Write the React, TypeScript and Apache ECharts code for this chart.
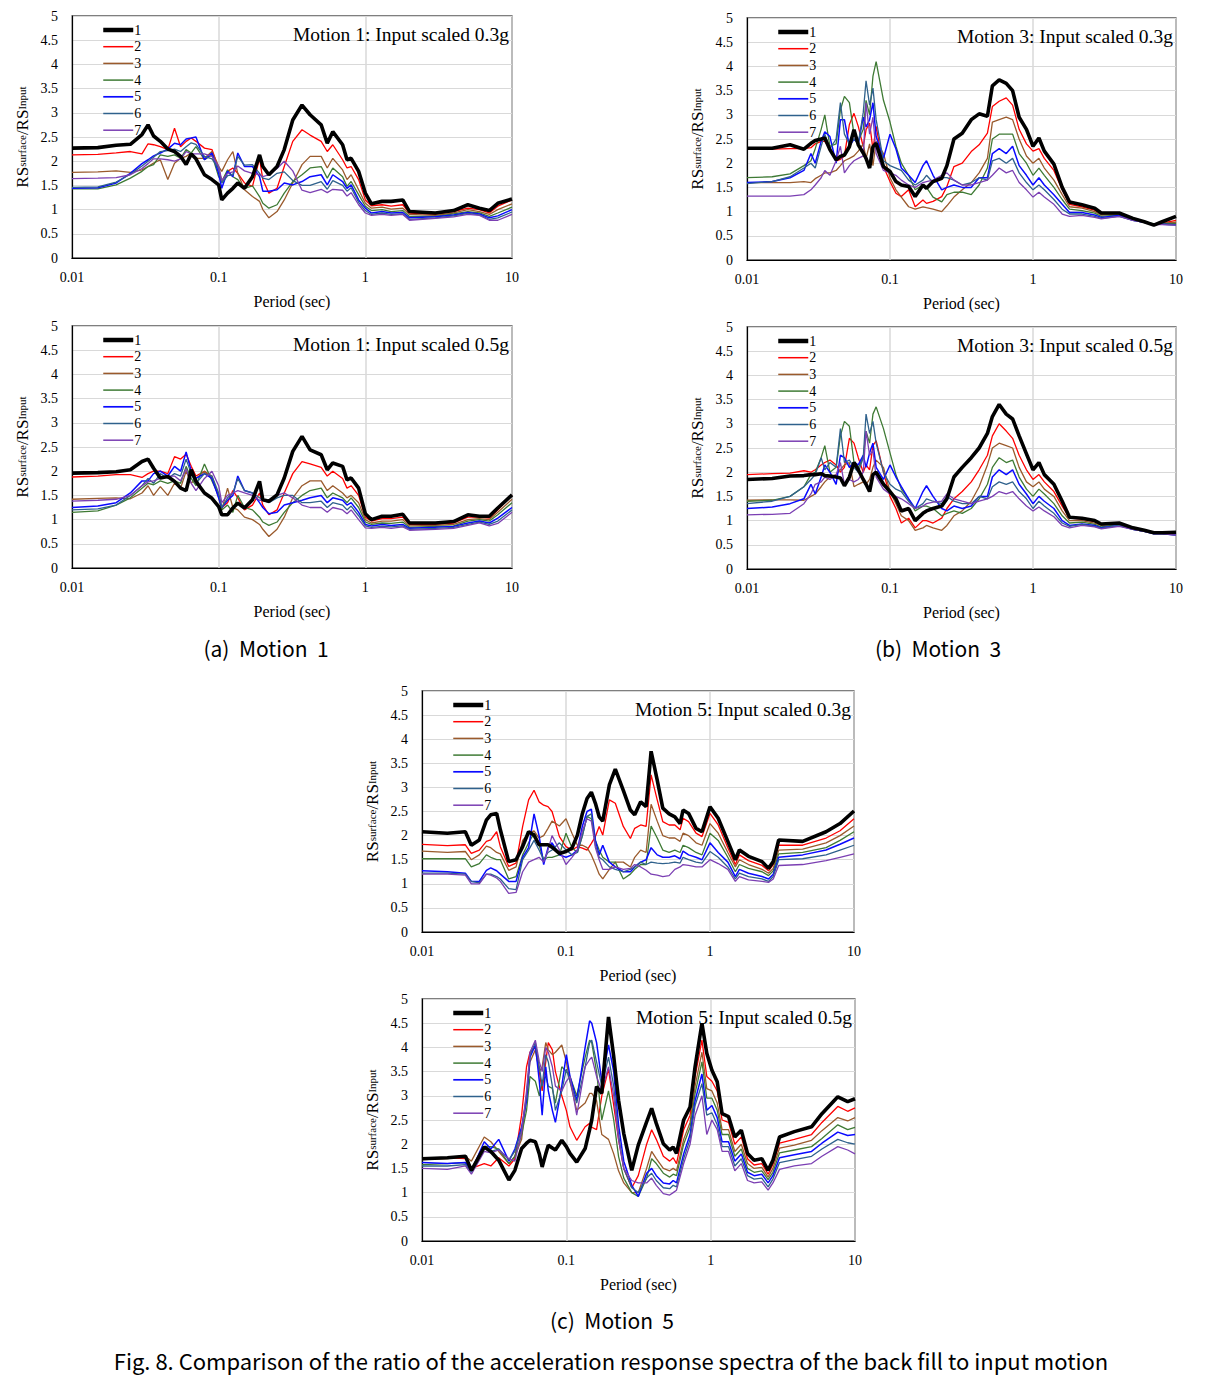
import React, { useEffect, useRef } from "react";
import * as echarts from "echarts";

// ---------- periods (sec) ----------
const T_M1 = [0.01, 0.015, 0.02, 0.025, 0.03, 0.033, 0.036, 0.04, 0.045, 0.05, 0.055, 0.06, 0.065, 0.07, 0.08, 0.09, 0.1, 0.105, 0.115, 0.125, 0.135, 0.15, 0.17, 0.19, 0.2, 0.22, 0.25, 0.28, 0.32, 0.37, 0.42, 0.5, 0.55, 0.6, 0.7, 0.75, 0.8, 0.9, 1.0, 1.1, 1.3, 1.5, 1.8, 2, 3, 4, 5, 6, 7, 8, 10];
const T_M3 = [0.01, 0.015, 0.02, 0.025, 0.028, 0.03, 0.033, 0.035, 0.038, 0.042, 0.045, 0.048, 0.052, 0.056, 0.06, 0.065, 0.068, 0.072, 0.076, 0.08, 0.09, 0.1, 0.11, 0.12, 0.135, 0.15, 0.17, 0.18, 0.2, 0.23, 0.25, 0.28, 0.32, 0.37, 0.42, 0.48, 0.52, 0.58, 0.65, 0.72, 0.8, 0.9, 1.0, 1.1, 1.2, 1.4, 1.6, 1.8, 2.2, 2.7, 3, 4, 5, 6, 7, 8, 10];
const T_M5A = [0.01, 0.015, 0.02, 0.022, 0.025, 0.028, 0.03, 0.033, 0.035, 0.04, 0.045, 0.05, 0.055, 0.06, 0.065, 0.07, 0.075, 0.08, 0.09, 0.1, 0.11, 0.12, 0.13, 0.14, 0.15, 0.16, 0.17, 0.18, 0.2, 0.22, 0.25, 0.28, 0.3, 0.33, 0.36, 0.39, 0.43, 0.47, 0.52, 0.57, 0.62, 0.65, 0.71, 0.8, 0.88, 1.0, 1.14, 1.33, 1.5, 1.6, 1.85, 2.3, 2.55, 2.75, 3.0, 4.4, 6.4, 8, 10];
const T_M5B = [0.01, 0.015, 0.02, 0.022, 0.027, 0.03, 0.034, 0.04, 0.044, 0.049, 0.053, 0.056, 0.061, 0.065, 0.068, 0.072, 0.075, 0.08, 0.084, 0.093, 0.1, 0.106, 0.118, 0.135, 0.145, 0.15, 0.162, 0.176, 0.196, 0.213, 0.23, 0.25, 0.284, 0.315, 0.36, 0.39, 0.42, 0.47, 0.52, 0.55, 0.58, 0.65, 0.72, 0.78, 0.87, 0.94, 1.02, 1.11, 1.2, 1.33, 1.47, 1.63, 1.8, 2.0, 2.26, 2.5, 2.7, 3.0, 3.8, 5.0, 5.9, 7.6, 8.9, 10];

// ---------- Motion 1, 0.3g ----------
const M1_03_S1 = [2.27, 2.28, 2.33, 2.35, 2.55, 2.75, 2.52, 2.41, 2.25, 2.2, 2.1, 1.93, 2.15, 2.05, 1.72, 1.62, 1.51, 1.2, 1.34, 1.44, 1.55, 1.44, 1.68, 2.13, 1.89, 1.72, 1.89, 2.24, 2.85, 3.16, 2.96, 2.75, 2.37, 2.61, 2.34, 2.03, 2.06, 1.79, 1.34, 1.12, 1.17, 1.17, 1.2, 0.96, 0.93, 0.98, 1.1, 1.03, 0.98, 1.13, 1.22];
const M1_03_S2 = [2.13, 2.14, 2.17, 2.2, 2.15, 2.36, 2.34, 2.3, 2.24, 2.68, 2.3, 2.41, 2.48, 2.41, 2.27, 2.24, 1.86, 1.58, 1.79, 1.86, 1.75, 1.55, 1.48, 2.06, 1.62, 1.34, 1.44, 1.89, 2.41, 2.65, 2.54, 2.41, 2.2, 2.34, 2.03, 1.86, 1.89, 1.62, 1.2, 1.08, 1.1, 1.07, 1.1, 0.93, 0.9, 0.96, 1.03, 1.0, 0.93, 1.07, 1.2];
const M1_03_S3 = [1.77, 1.78, 1.8, 1.77, 1.82, 1.89, 1.96, 2.03, 1.62, 1.96, 2.06, 2.1, 2.17, 2.06, 2.06, 2.2, 1.89, 1.79, 2.03, 2.2, 1.75, 1.41, 1.27, 1.17, 1.0, 0.83, 0.96, 1.2, 1.55, 1.93, 2.1, 2.1, 1.86, 2.06, 1.82, 1.62, 1.72, 1.41, 1.13, 1.03, 1.05, 1.01, 1.03, 0.9, 0.88, 0.93, 1.0, 0.96, 0.9, 1.0, 1.12];
const M1_03_S4 = [1.43, 1.43, 1.51, 1.65, 1.79, 1.89, 1.93, 2.13, 2.1, 2.13, 2.06, 2.24, 2.17, 2.3, 2.03, 2.13, 1.68, 1.58, 1.82, 1.68, 1.62, 1.44, 1.49, 1.27, 1.13, 1.03, 1.1, 1.34, 1.58, 1.72, 1.86, 1.89, 1.65, 1.86, 1.68, 1.48, 1.58, 1.31, 1.07, 0.98, 1.0, 0.96, 0.98, 0.86, 0.86, 0.91, 0.96, 0.93, 0.86, 0.93, 1.05];
const M1_03_S5 = [1.44, 1.45, 1.55, 1.75, 1.95, 2.03, 2.11, 2.17, 2.25, 2.37, 2.34, 2.46, 2.48, 2.5, 2.03, 2.17, 1.75, 1.44, 1.79, 1.68, 2.17, 1.89, 1.89, 1.68, 1.38, 1.38, 1.41, 1.55, 1.51, 1.58, 1.68, 1.72, 1.51, 1.72, 1.58, 1.44, 1.51, 1.2, 1.03, 0.93, 0.96, 0.93, 0.94, 0.83, 0.85, 0.89, 0.94, 0.91, 0.83, 0.87, 1.0];
const M1_03_S6 = [1.46, 1.47, 1.57, 1.73, 1.9, 2.0, 2.08, 2.2, 2.22, 2.25, 2.2, 2.3, 2.38, 2.35, 2.1, 2.05, 1.85, 1.55, 1.7, 1.72, 2.1, 1.92, 1.93, 1.75, 1.65, 1.62, 1.75, 1.78, 1.6, 1.5, 1.5, 1.58, 1.42, 1.6, 1.5, 1.38, 1.45, 1.15, 0.98, 0.9, 0.93, 0.9, 0.91, 0.8, 0.83, 0.87, 0.92, 0.89, 0.8, 0.83, 0.95];
const M1_03_S7 = [1.64, 1.65, 1.66, 1.72, 1.85, 1.95, 2.05, 2.05, 2.03, 2.0, 2.05, 2.2, 2.15, 2.15, 2.15, 2.1, 1.9, 1.6, 1.75, 1.78, 1.9, 1.8, 1.75, 1.72, 1.68, 1.72, 1.85, 2.0, 1.8, 1.4, 1.35, 1.42, 1.35, 1.42, 1.4, 1.28, 1.35, 1.1, 0.93, 0.88, 0.9, 0.88, 0.9, 0.78, 0.82, 0.85, 0.9, 0.88, 0.78, 0.78, 0.9];

// ---------- Motion 1, 0.5g ----------
const M1_05_S1 = [1.96, 1.97, 1.99, 2.03, 2.2, 2.25, 2.06, 1.86, 1.89, 1.79, 1.65, 1.6, 2.03, 1.79, 1.55, 1.44, 1.27, 1.1, 1.1, 1.24, 1.34, 1.24, 1.41, 1.79, 1.41, 1.38, 1.51, 1.86, 2.41, 2.72, 2.44, 2.34, 2.03, 2.17, 2.1, 1.82, 1.86, 1.65, 1.12, 1.0, 1.07, 1.07, 1.11, 0.93, 0.93, 0.96, 1.1, 1.07, 1.07, 1.24, 1.51];
const M1_05_S2 = [1.88, 1.9, 1.93, 1.93, 1.87, 1.95, 2.0, 2.0, 1.95, 2.3, 2.25, 2.35, 2.1, 1.9, 2.0, 1.85, 1.5, 1.25, 1.35, 1.6, 1.45, 1.2, 1.3, 1.55, 1.3, 1.1, 1.2, 1.55, 1.95, 2.2, 2.15, 2.08, 1.9, 2.0, 1.85, 1.65, 1.7, 1.5, 1.05, 0.97, 1.02, 1.02, 1.05, 0.9, 0.9, 0.93, 1.05, 1.05, 1.03, 1.2, 1.5];
const M1_05_S3 = [1.42, 1.44, 1.45, 1.43, 1.55, 1.7, 1.5, 1.68, 1.5, 1.75, 1.65, 2.0, 1.75, 1.85, 2.0, 1.9, 1.45, 1.2, 1.65, 1.25, 1.2, 1.05, 1.0, 0.9, 0.8, 0.65, 0.8, 1.05, 1.45, 1.7, 1.8, 1.8, 1.6, 1.7, 1.55, 1.45, 1.5, 1.35, 1.0, 0.93, 0.97, 0.97, 1.0, 0.87, 0.88, 0.9, 1.0, 1.02, 1.0, 1.15, 1.42];
const M1_05_S4 = [1.15, 1.18, 1.3, 1.45, 1.65, 1.75, 1.72, 1.8, 1.75, 1.8, 1.75, 2.1, 1.85, 1.7, 2.15, 1.8, 1.5, 1.2, 1.3, 1.15, 1.5, 1.25, 1.2, 1.05, 0.95, 0.88, 0.95, 1.15, 1.35, 1.5, 1.6, 1.65, 1.45, 1.55, 1.45, 1.35, 1.45, 1.25, 0.95, 0.9, 0.93, 0.92, 0.95, 0.84, 0.86, 0.87, 0.97, 1.0, 0.97, 1.1, 1.35];
const M1_05_S5 = [1.25, 1.28, 1.35, 1.55, 1.8, 1.8, 1.95, 2.0, 1.9, 2.1, 2.0, 2.4, 2.0, 1.85, 1.95, 1.85, 1.45, 1.25, 1.4, 1.5, 1.9, 1.6, 1.55, 1.35, 1.25, 1.12, 1.15, 1.3, 1.35, 1.4, 1.45, 1.5, 1.35, 1.45, 1.4, 1.3, 1.35, 1.15, 0.9, 0.87, 0.9, 0.88, 0.9, 0.82, 0.84, 0.86, 0.93, 0.97, 0.93, 1.03, 1.25];
const M1_05_S6 = [1.2, 1.22, 1.3, 1.5, 1.7, 1.85, 1.75, 1.95, 1.85, 1.95, 1.9, 2.25, 1.95, 1.75, 1.95, 1.9, 1.55, 1.25, 1.45, 1.55, 1.85, 1.6, 1.55, 1.45, 1.4, 1.35, 1.45, 1.5, 1.5, 1.35, 1.35, 1.38, 1.25, 1.35, 1.3, 1.2, 1.28, 1.08, 0.87, 0.84, 0.86, 0.85, 0.87, 0.8, 0.82, 0.84, 0.9, 0.95, 0.9, 0.97, 1.2];
const M1_05_S7 = [1.38, 1.4, 1.42, 1.5, 1.7, 1.78, 1.8, 1.85, 1.9, 1.9, 1.8, 2.05, 1.75, 1.6, 1.85, 2.0, 1.7, 1.35, 1.5, 1.55, 1.6, 1.55, 1.5, 1.4, 1.4, 1.38, 1.5, 1.55, 1.45, 1.3, 1.25, 1.25, 1.15, 1.25, 1.2, 1.12, 1.2, 1.0, 0.83, 0.82, 0.84, 0.82, 0.85, 0.78, 0.8, 0.82, 0.88, 0.93, 0.87, 0.92, 1.15];

// ---------- Motion 3, 0.3g ----------
const M3_03_S1 = [2.31, 2.31, 2.38, 2.29, 2.41, 2.47, 2.5, 2.52, 2.28, 2.07, 2.14, 2.17, 2.34, 2.69, 2.38, 2.21, 2.1, 1.9, 2.34, 2.41, 1.93, 1.83, 1.62, 1.55, 1.52, 1.31, 1.55, 1.48, 1.62, 1.69, 1.95, 2.5, 2.62, 2.9, 3.02, 2.97, 3.6, 3.72, 3.65, 3.5, 2.95, 2.7, 2.35, 2.52, 2.25, 1.98, 1.5, 1.2, 1.14, 1.07, 0.97, 0.97, 0.86, 0.79, 0.72, 0.79, 0.9];
const M3_03_S2 = [2.29, 2.29, 2.3, 2.3, 2.32, 2.4, 2.45, 2.45, 2.3, 2.05, 2.08, 2.15, 2.8, 3.03, 2.76, 2.34, 2.69, 2.83, 2.28, 2.76, 1.93, 1.62, 1.38, 1.31, 1.45, 1.1, 1.24, 1.17, 1.21, 1.31, 1.52, 1.93, 2.0, 2.24, 2.38, 2.62, 3.17, 3.28, 3.35, 3.2, 2.7, 2.4, 2.25, 2.3, 2.1, 1.85, 1.45, 1.15, 1.1, 1.03, 0.95, 0.95, 0.85, 0.78, 0.72, 0.76, 0.82];
const M3_03_S3 = [1.6, 1.6, 1.6, 1.62, 1.6, 1.68, 1.75, 1.8, 1.8, 1.85, 1.95, 2.05, 2.1, 2.15, 2.25, 2.4, 2.1, 2.4, 1.95, 2.45, 2.2, 1.7, 1.45, 1.3, 1.1, 1.05, 1.1, 1.08, 1.05, 1.0, 1.12, 1.3, 1.45, 1.6, 1.8, 2.1, 2.85, 2.9, 2.95, 2.9, 2.5, 2.15, 2.0, 2.1, 1.9, 1.65, 1.35, 1.1, 1.07, 1.0, 0.93, 0.95, 0.85, 0.78, 0.74, 0.76, 0.78];
const M3_03_S4 = [1.7, 1.72, 1.78, 1.95, 2.05, 2.3, 2.7, 3.0, 2.35, 2.4, 3.1, 3.38, 3.25, 2.6, 2.45, 2.7, 3.3, 3.0, 3.8, 4.1, 3.3, 2.85, 2.35, 2.0, 1.75, 1.45, 1.55, 1.5, 1.3, 1.2, 1.35, 1.4, 1.4, 1.35, 1.55, 1.9, 2.5, 2.6, 2.6, 2.6, 2.2, 2.0, 1.75, 1.9, 1.75, 1.5, 1.25, 1.05, 1.02, 0.97, 0.9, 0.93, 0.84, 0.78, 0.75, 0.75, 0.75];
const M3_03_S5 = [1.6, 1.62, 1.7, 1.85, 2.2, 2.0, 2.45, 2.65, 2.55, 2.0, 2.9, 2.9, 2.35, 2.5, 2.4, 2.95, 2.75, 2.9, 3.25, 2.55, 2.1, 2.6, 2.3, 1.9, 1.75, 1.6, 1.95, 2.05, 1.75, 1.45, 1.5, 1.55, 1.5, 1.5, 1.7, 1.7, 2.2, 2.3, 2.2, 2.35, 1.95, 1.75, 1.55, 1.7, 1.55, 1.35, 1.15, 0.98, 0.98, 0.93, 0.88, 0.92, 0.82, 0.78, 0.74, 0.74, 0.73];
const M3_03_S6 = [1.58, 1.62, 1.72, 1.9, 2.0, 1.9, 2.35, 2.6, 2.3, 2.5, 3.25, 2.6, 2.4, 2.5, 2.4, 3.05, 3.7, 3.2, 3.55, 2.9, 2.05, 1.95, 1.9, 1.85, 1.65, 1.55, 1.65, 1.75, 1.6, 1.7, 1.7, 1.65, 1.55, 1.6, 1.7, 1.65, 2.05, 2.1, 2.0, 2.1, 1.8, 1.6, 1.45, 1.55, 1.45, 1.25, 1.05, 0.95, 0.95, 0.9, 0.86, 0.9, 0.82, 0.78, 0.74, 0.74, 0.72];
const M3_03_S7 = [1.32, 1.32, 1.32, 1.35, 1.45, 1.55, 1.7, 1.85, 1.75, 2.05, 2.35, 1.8, 1.95, 2.05, 2.1, 2.15, 3.25, 2.6, 2.95, 2.2, 1.85, 1.8, 1.75, 1.65, 1.55, 1.5, 1.6, 1.62, 1.65, 1.75, 1.8, 1.65, 1.55, 1.55, 1.6, 1.65, 1.75, 1.9, 1.8, 1.85, 1.6, 1.45, 1.3, 1.4, 1.3, 1.15, 0.95, 0.9, 0.92, 0.88, 0.85, 0.9, 0.82, 0.78, 0.73, 0.73, 0.72];

// ---------- Motion 3, 0.5g ----------
const M3_05_S1 = [1.85, 1.87, 1.92, 1.93, 1.95, 1.95, 1.97, 1.93, 1.92, 1.9, 1.88, 1.72, 1.9, 2.2, 2.05, 1.85, 1.75, 1.6, 1.95, 2.0, 1.75, 1.6, 1.45, 1.2, 1.25, 1.0, 1.15, 1.2, 1.25, 1.3, 1.45, 1.9, 2.1, 2.3, 2.5, 2.8, 3.15, 3.4, 3.2, 3.1, 2.75, 2.38, 2.05, 2.2, 1.95, 1.75, 1.4, 1.07, 1.05, 1.0, 0.93, 0.95, 0.85, 0.8, 0.75, 0.75, 0.76];
const M3_05_S2 = [1.95, 1.97, 1.98, 2.03, 2.0, 2.05, 2.15, 2.2, 2.25, 2.15, 2.0, 2.1, 2.7, 2.6, 2.3, 2.0, 2.15, 2.05, 2.55, 2.65, 2.0, 1.5, 1.25, 0.95, 1.05, 0.85, 1.0, 1.0, 0.95, 1.05, 1.25, 1.45, 1.6, 1.8, 2.05, 2.35, 2.75, 3.0, 2.85, 2.7, 2.35, 2.05, 1.85, 1.95, 1.8, 1.6, 1.3, 1.05, 1.03, 0.98, 0.92, 0.95, 0.85, 0.8, 0.75, 0.75, 0.73];
const M3_05_S3 = [1.42, 1.43, 1.43, 1.42, 1.5, 1.55, 1.7, 1.8, 1.9, 1.95, 2.05, 2.15, 2.2, 1.7, 1.75, 1.8, 1.75, 1.85, 2.1, 2.25, 2.1, 1.6, 1.35, 1.1, 1.0, 0.8, 0.85, 0.9, 0.85, 0.8, 0.9, 1.1, 1.2, 1.4, 1.7, 2.15, 2.5, 2.6, 2.55, 2.5, 2.1, 1.8, 1.7, 1.8, 1.65, 1.5, 1.2, 1.0, 1.0, 0.95, 0.9, 0.93, 0.84, 0.8, 0.75, 0.75, 0.72];
const M3_05_S4 = [1.4, 1.42, 1.5, 1.7, 1.95, 2.0, 2.3, 2.55, 2.0, 2.1, 2.75, 3.05, 2.95, 2.2, 2.1, 2.3, 2.85, 2.6, 3.2, 3.35, 2.9, 2.4, 1.95, 1.65, 1.45, 1.2, 1.3, 1.3, 1.25, 1.1, 1.15, 1.2, 1.15, 1.25, 1.45, 1.75, 2.1, 2.3, 2.2, 2.25, 1.9, 1.65, 1.5, 1.65, 1.55, 1.35, 1.1, 0.95, 0.97, 0.92, 0.87, 0.92, 0.82, 0.78, 0.74, 0.74, 0.72];
const M3_05_S5 = [1.25, 1.28, 1.35, 1.45, 1.75, 1.55, 1.9, 2.15, 2.0, 1.75, 2.35, 2.3, 2.1, 2.2, 2.15, 2.35, 2.1, 2.4, 2.6, 2.1, 1.85, 2.15, 1.9, 1.7, 1.45, 1.25, 1.6, 1.72, 1.5, 1.25, 1.2, 1.3, 1.25, 1.3, 1.5, 1.5, 1.9, 2.05, 1.95, 2.05, 1.75, 1.55, 1.35, 1.5, 1.4, 1.25, 1.0, 0.9, 0.93, 0.9, 0.85, 0.9, 0.82, 0.78, 0.73, 0.73, 0.7];
const M3_05_S6 = [1.35, 1.4, 1.5, 1.7, 1.85, 1.95, 2.3, 2.05, 2.2, 2.1, 2.9, 2.2, 2.25, 2.1, 2.0, 2.3, 3.2, 2.8, 3.05, 2.6, 2.0, 1.75, 1.65, 1.6, 1.4, 1.25, 1.35, 1.45, 1.4, 1.35, 1.5, 1.4, 1.35, 1.35, 1.5, 1.45, 1.7, 1.8, 1.75, 1.8, 1.6, 1.45, 1.25, 1.4, 1.3, 1.15, 0.95, 0.88, 0.92, 0.88, 0.84, 0.9, 0.82, 0.78, 0.73, 0.73, 0.7];
const M3_05_S7 = [1.12, 1.13, 1.15, 1.35, 1.55, 1.75, 1.8, 1.9, 1.85, 1.95, 2.2, 1.75, 1.85, 1.8, 1.85, 2.0, 2.85, 2.35, 2.45, 1.9, 1.65, 1.55, 1.5, 1.45, 1.35, 1.25, 1.3, 1.35, 1.38, 1.4, 1.55, 1.45, 1.4, 1.35, 1.4, 1.45, 1.5, 1.6, 1.55, 1.6, 1.45, 1.3, 1.2, 1.28, 1.2, 1.08, 0.9, 0.85, 0.9, 0.87, 0.83, 0.88, 0.82, 0.78, 0.73, 0.73, 0.7];

// ---------- Motion 5, 0.3g ----------
const M5_03_S1 = [2.08, 2.05, 2.08, 1.8, 1.91, 2.32, 2.43, 2.46, 2.12, 1.46, 1.5, 1.77, 2.08, 2.01, 1.81, 1.81, 1.81, 1.76, 1.63, 1.67, 1.74, 2.01, 2.46, 2.77, 2.9, 2.67, 2.39, 2.3, 3.05, 3.38, 2.94, 2.53, 2.43, 2.7, 2.6, 3.75, 3.15, 2.57, 2.45, 2.39, 2.25, 2.53, 2.46, 2.15, 2.08, 2.6, 2.36, 1.88, 1.5, 1.7, 1.57, 1.46, 1.32, 1.46, 1.91, 1.88, 2.08, 2.25, 2.51];
const M5_03_S2 = [1.82, 1.79, 1.81, 1.63, 1.7, 1.88, 1.91, 2.08, 1.77, 1.36, 1.43, 2.19, 2.74, 2.94, 2.7, 2.63, 2.6, 2.5, 1.98, 1.77, 1.7, 1.77, 1.74, 1.7, 1.84, 1.98, 2.19, 2.01, 2.74, 2.67, 2.19, 1.94, 2.15, 2.22, 2.19, 3.26, 2.74, 2.29, 2.22, 2.22, 2.12, 2.36, 2.29, 2.05, 1.98, 2.46, 2.22, 1.75, 1.4, 1.6, 1.48, 1.38, 1.27, 1.4, 1.8, 1.8, 1.95, 2.1, 2.35];
const M5_03_S3 = [1.68, 1.65, 1.67, 1.5, 1.6, 1.78, 1.75, 1.65, 1.62, 1.28, 1.35, 1.9, 2.05, 2.1, 1.95, 2.0, 2.15, 2.3, 2.2, 2.35, 2.05, 1.8, 1.8, 1.75, 1.6, 1.4, 1.2, 1.1, 1.3, 1.45, 1.45, 1.35, 1.55, 1.7, 1.65, 2.65, 2.3, 2.0, 1.95, 1.95, 1.88, 2.05, 2.0, 1.85, 1.8, 2.25, 2.05, 1.65, 1.35, 1.5, 1.4, 1.3, 1.22, 1.32, 1.7, 1.72, 1.85, 2.0, 2.2];
const M5_03_S4 = [1.52, 1.52, 1.52, 1.35, 1.42, 1.6, 1.55, 1.5, 1.5, 1.1, 1.15, 1.6, 1.85, 2.05, 1.8, 1.5, 1.55, 1.55, 1.6, 2.05, 1.75, 1.65, 2.0, 2.4, 2.35, 1.9, 1.7, 1.55, 1.45, 1.45, 1.1, 1.2, 1.3, 1.4, 1.4, 2.2, 1.95, 1.7, 1.65, 1.7, 1.65, 1.8, 1.75, 1.65, 1.6, 2.05, 1.9, 1.55, 1.25, 1.4, 1.32, 1.25, 1.17, 1.27, 1.62, 1.65, 1.75, 1.9, 2.08];
const M5_03_S5 = [1.27, 1.25, 1.22, 1.05, 1.05, 1.28, 1.33, 1.27, 1.2, 1.05, 1.05, 1.55, 1.75, 2.45, 2.0, 1.4, 1.75, 1.85, 1.6, 1.55, 1.6, 1.7, 2.2, 2.5, 2.55, 1.9, 1.6, 1.8, 1.45, 1.35, 1.25, 1.25, 1.35, 1.45, 1.5, 1.75, 1.6, 1.55, 1.55, 1.58, 1.52, 1.68, 1.6, 1.55, 1.5, 1.85, 1.65, 1.45, 1.15, 1.3, 1.22, 1.15, 1.1, 1.2, 1.55, 1.6, 1.7, 1.82, 1.95];
const M5_03_S6 = [1.22, 1.22, 1.2, 1.05, 1.02, 1.2, 1.2, 1.15, 1.1, 0.9, 0.88, 1.5, 1.7, 1.9, 1.7, 1.5, 1.65, 1.7, 1.85, 1.7, 1.6, 1.65, 2.0, 2.4, 2.45, 1.8, 1.55, 1.5, 1.35, 1.3, 1.25, 1.3, 1.35, 1.45, 1.4, 1.45, 1.43, 1.42, 1.43, 1.45, 1.43, 1.55, 1.5, 1.45, 1.43, 1.67, 1.55, 1.35, 1.1, 1.22, 1.15, 1.1, 1.05, 1.15, 1.5, 1.52, 1.6, 1.7, 1.8];
const M5_03_S7 = [1.2, 1.2, 1.18, 1.0, 1.0, 1.2, 1.18, 1.12, 1.05, 0.8, 0.82, 1.25, 1.45, 1.5, 1.55, 1.45, 1.7, 2.0, 1.7, 1.4, 1.55, 1.7, 2.1, 2.35, 2.3, 1.75, 1.5, 1.3, 1.3, 1.35, 1.3, 1.32, 1.4, 1.35, 1.28, 1.2, 1.18, 1.15, 1.17, 1.3, 1.35, 1.4, 1.38, 1.35, 1.35, 1.5, 1.42, 1.3, 1.05, 1.15, 1.08, 1.05, 1.03, 1.1, 1.38, 1.4, 1.48, 1.55, 1.62];

// ---------- Motion 5, 0.5g ----------
const M5_05_S1 = [1.7, 1.72, 1.75, 1.46, 1.94, 1.85, 1.67, 1.26, 1.46, 1.91, 2.02, 2.08, 2.05, 1.8, 1.53, 1.8, 1.98, 1.92, 1.88, 2.08, 1.95, 1.81, 1.63, 1.91, 2.3, 2.5, 3.19, 3.05, 4.63, 3.81, 2.91, 2.22, 1.46, 1.98, 2.46, 2.74, 2.43, 2.01, 1.88, 1.94, 1.81, 2.5, 2.77, 3.6, 4.5, 3.88, 3.53, 3.29, 2.63, 2.57, 2.15, 2.29, 1.81, 1.67, 1.7, 1.46, 1.67, 2.15, 2.26, 2.36, 2.63, 2.98, 2.88, 2.94];
const M5_05_S2 = [1.72, 1.72, 1.7, 1.5, 1.6, 1.55, 1.72, 1.55, 1.7, 2.6, 3.6, 3.9, 4.0, 3.5, 3.1, 3.7, 4.1, 3.95, 3.5, 3.0, 2.7, 2.36, 2.08, 2.36, 2.43, 2.35, 2.3, 3.0, 3.55, 2.8, 2.1, 1.5, 1.1, 1.35, 2.0, 2.3, 2.1, 1.75, 1.65, 1.72, 1.6, 2.3, 2.6, 3.4, 4.15, 3.4, 3.3, 3.1, 2.5, 2.45, 2.0, 2.15, 1.7, 1.57, 1.6, 1.38, 1.58, 2.02, 2.1, 2.2, 2.45, 2.78, 2.68, 2.75];
const M5_05_S3 = [1.68, 1.7, 1.75, 1.65, 2.15, 2.05, 1.85, 1.6, 1.75, 2.1, 3.0, 3.7, 3.95, 3.5, 3.6, 4.1, 3.95, 3.85, 3.9, 4.05, 3.7, 3.3, 2.7, 2.85, 3.05, 3.05, 2.9, 2.2, 2.1, 1.8, 1.45, 1.2, 1.0, 1.0, 1.5, 1.85, 1.7, 1.5, 1.45, 1.5, 1.45, 2.1, 2.45, 3.2, 3.9, 3.15, 3.1, 2.85, 2.3, 2.3, 1.85, 2.0, 1.6, 1.5, 1.52, 1.32, 1.5, 1.92, 1.98, 2.08, 2.28, 2.55, 2.48, 2.55];
const M5_05_S4 = [1.58, 1.6, 1.62, 1.45, 1.95, 1.95, 1.9, 1.6, 1.75, 2.2, 2.7, 3.4, 3.3, 3.0, 3.3, 3.4, 3.2, 3.15, 2.85, 3.6, 3.5, 3.4, 3.0, 3.8, 4.15, 4.1, 3.5, 2.5, 3.1, 2.5, 1.75, 1.3, 1.0, 0.92, 1.3, 1.7, 1.6, 1.4, 1.32, 1.38, 1.35, 2.0, 2.35, 3.05, 3.7, 2.95, 2.95, 2.7, 2.2, 2.2, 1.75, 1.9, 1.5, 1.42, 1.45, 1.27, 1.42, 1.82, 1.88, 1.95, 2.12, 2.4, 2.3, 2.35];
const M5_05_S5 = [1.62, 1.6, 1.62, 1.45, 2.05, 1.9, 2.1, 1.65, 1.9, 2.35, 2.9, 3.8, 4.05, 3.3, 2.6, 3.6, 3.1, 2.7, 2.45, 3.2, 3.85, 3.4, 2.9, 4.0, 4.55, 4.5, 4.1, 3.3, 4.05, 3.5, 2.4, 1.65, 1.15, 0.92, 1.4, 1.5, 1.35, 1.2, 1.18, 1.25, 1.2, 1.8, 2.2, 2.9, 3.45, 2.7, 2.8, 2.55, 2.05, 2.05, 1.65, 1.8, 1.42, 1.35, 1.38, 1.2, 1.35, 1.72, 1.78, 1.85, 2.02, 2.25, 2.18, 2.2];
const M5_05_S6 = [1.55, 1.55, 1.58, 1.42, 1.95, 1.85, 1.9, 1.68, 1.85, 2.3, 3.0, 3.85, 4.1, 3.6, 3.2, 3.85, 3.7, 3.2, 2.7, 3.1, 3.55, 3.3, 2.85, 3.6, 4.1, 4.15, 3.7, 3.2, 3.8, 3.2, 2.2, 1.5, 1.1, 1.0, 1.3, 1.4, 1.25, 1.1, 1.08, 1.15, 1.12, 1.7, 2.1, 2.8, 3.25, 2.6, 2.65, 2.4, 1.95, 1.95, 1.55, 1.7, 1.35, 1.28, 1.3, 1.12, 1.28, 1.62, 1.68, 1.75, 1.9, 2.1, 2.03, 2.0];
const M5_05_S7 = [1.5, 1.48, 1.55, 1.38, 1.85, 1.82, 1.88, 1.7, 1.65, 2.25, 3.1, 3.9, 4.15, 3.7, 3.5, 4.0, 3.9, 3.6, 3.2, 3.1, 3.3, 3.4, 2.6, 3.6, 3.75, 3.8, 3.4, 3.1, 3.6, 3.0, 2.1, 1.5, 1.25, 1.2, 1.2, 1.3, 1.15, 0.98, 0.95, 1.0, 1.05, 1.6, 2.0, 2.6, 3.0, 2.2, 2.5, 2.3, 1.85, 1.85, 1.45, 1.6, 1.25, 1.2, 1.22, 1.05, 1.2, 1.48, 1.55, 1.6, 1.75, 1.95, 1.88, 1.8];

// ---------- labels ----------
const SERIES_NAMES = ["1", "2", "3", "4", "5", "6", "7"];
const X_TICK_LABELS: Record<string, string> = { "0.01": "0.01", "0.1": "0.1", "1": "1", "10": "10" };
const TITLES = [
  "Motion 1: Input scaled 0.3g",
  "Motion 3: Input scaled 0.3g",
  "Motion 1: Input scaled 0.5g",
  "Motion 3: Input scaled 0.5g",
  "Motion 5: Input scaled 0.3g",
  "Motion 5: Input scaled 0.5g",
];
const CAPTIONS = ["(a)  Motion  1", "(b)  Motion  3", "(c)  Motion  5"];
const FIG_CAPTION = "Fig. 8. Comparison of the ratio of the acceleration response spectra of the back fill to input motion";

// ---------- styles ----------
const COLORS = ["#000000", "#ff0000", "#9a5a2c", "#3e7a34", "#0a0aff", "#2f618c", "#7b3fb3"];
const WIDTHS = [3.6, 1.3, 1.3, 1.3, 1.5, 1.3, 1.3];
const LEGEND_WIDTHS = [4.5, 1.5, 1.5, 1.5, 1.7, 1.5, 1.5];
const SERIF = "'Times New Roman', 'Liberation Serif', serif";
const SANS = "'Noto Sans CJK KR', 'Noto Sans', sans-serif";

const PANELS = [
  { T: T_M1, S: [M1_03_S1, M1_03_S2, M1_03_S3, M1_03_S4, M1_03_S5, M1_03_S6, M1_03_S7], box: { left: 72, top: 16, width: 440, height: 242 } },
  { T: T_M3, S: [M3_03_S1, M3_03_S2, M3_03_S3, M3_03_S4, M3_03_S5, M3_03_S6, M3_03_S7], box: { left: 747, top: 18, width: 429, height: 242 } },
  { T: T_M1, S: [M1_05_S1, M1_05_S2, M1_05_S3, M1_05_S4, M1_05_S5, M1_05_S6, M1_05_S7], box: { left: 72, top: 326, width: 440, height: 242 } },
  { T: T_M3, S: [M3_05_S1, M3_05_S2, M3_05_S3, M3_05_S4, M3_05_S5, M3_05_S6, M3_05_S7], box: { left: 747, top: 327, width: 429, height: 242 } },
  { T: T_M5A, S: [M5_03_S1, M5_03_S2, M5_03_S3, M5_03_S4, M5_03_S5, M5_03_S6, M5_03_S7], box: { left: 422, top: 691, width: 432, height: 241 } },
  { T: T_M5B, S: [M5_05_S1, M5_05_S2, M5_05_S3, M5_05_S4, M5_05_S5, M5_05_S6, M5_05_S7], box: { left: 422, top: 999, width: 433, height: 242 } },
];

function buildOption() {
  const grid: any[] = [];
  const xAxis: any[] = [];
  const yAxis: any[] = [];
  const series: any[] = [];
  const legend: any[] = [];
  const graphic: any[] = [];

  PANELS.forEach((p, i) => {
    const b = p.box;
    grid.push({
      left: b.left,
      top: b.top,
      width: b.width,
      height: b.height,
      containLabel: false,
      outerBoundsMode: "none",
      show: true,
      borderColor: "#000",
      borderWidth: 1.2,
      backgroundColor: "#fff",
    });
    xAxis.push({
      type: "log",
      logBase: 10,
      gridIndex: i,
      min: 0.01,
      max: 10,
      name: "Period (sec)",
      nameLocation: "middle",
      nameGap: 35,
      nameTextStyle: { fontFamily: SERIF, fontSize: 16, color: "#000" },
      axisLine: { show: true, lineStyle: { color: "#000", width: 1.2 } },
      axisTick: { show: false },
      axisLabel: {
        margin: 12,
        fontFamily: SERIF,
        fontSize: 14,
        color: "#000",
        formatter: (v: number) => {
          const k = String(+Number(v).toPrecision(3));
          return X_TICK_LABELS[k] ?? k;
        },
      },
      splitLine: { show: true, lineStyle: { color: "#d9d9d9", width: 1.5 } },
    });
    yAxis.push({
      type: "value",
      gridIndex: i,
      min: 0,
      max: 5,
      interval: 0.5,
      name: "{a|RS}{b|surface}{a|/RS}{b|Input}",
      nameLocation: "middle",
      nameRotate: 90,
      nameGap: 41,
      nameTextStyle: {
        color: "#000",
        rich: {
          a: { fontFamily: SERIF, fontSize: 17, color: "#000", lineHeight: 17, padding: [0, 0, 6, 0], verticalAlign: "top" },
          b: { fontFamily: SERIF, fontSize: 11, color: "#000", lineHeight: 11, padding: [0, 0, 3, 0], verticalAlign: "bottom" },
        },
      },
      axisLine: { show: true, lineStyle: { color: "#000", width: 1.2 } },
      axisTick: { show: false },
      axisLabel: { margin: 14, fontFamily: SERIF, fontSize: 14, color: "#000" },
      splitLine: { show: true, lineStyle: { color: "#d9d9d9", width: 1.2 } },
    });
    p.S.forEach((vals, k) => {
      series.push({
        type: "line",
        name: SERIES_NAMES[k],
        xAxisIndex: i,
        yAxisIndex: i,
        data: p.T.map((t, j) => [t, vals[j]]),
        symbol: "none",
        showSymbol: false,
        smooth: false,
        z: k === 0 ? 4 : 3,
        lineStyle: { color: COLORS[k], width: WIDTHS[k] },
        itemStyle: { color: COLORS[k] },
        emphasis: { disabled: true },
      });
    });
    legend.push({
      orient: "vertical",
      left: b.left + 29,
      top: b.top + 7,
      padding: 0,
      itemWidth: 30,
      itemHeight: 14,
      itemGap: 2.7,
      selectedMode: false,
      data: SERIES_NAMES.map((n, k) => ({
        name: n,
        lineStyle: { color: COLORS[k], width: LEGEND_WIDTHS[k] },
      })),
      itemStyle: { opacity: 0 },
      textStyle: { fontFamily: SERIF, fontSize: 14, color: "#000", lineHeight: 14, padding: [0, 0, 0, -4] },
    });
    graphic.push({
      type: "text",
      x: b.left + b.width - 3,
      y: b.top + 18,
      z: 10,
      style: {
        text: TITLES[i],
        font: `19.5px ${SERIF}`,
        fill: "#000",
        textAlign: "right",
        textVerticalAlign: "middle",
        verticalAlign: "middle",
      },
    });
  });

  const capPos = [
    [266, 648],
    [938, 648],
    [612, 1320],
  ];
  CAPTIONS.forEach((c, i) => {
    graphic.push({
      type: "text",
      x: capPos[i][0],
      y: capPos[i][1],
      style: {
        text: c,
        font: `21px ${SANS}`,
        fill: "#000",
        textAlign: "center",
        textVerticalAlign: "middle",
        verticalAlign: "middle",
      },
    });
  });
  graphic.push({
    type: "text",
    x: 611,
    y: 1360,
    style: {
      text: FIG_CAPTION,
      font: `22px ${SANS}`,
      fill: "#000",
      textAlign: "center",
      textVerticalAlign: "middle",
      verticalAlign: "middle",
    },
  });

  return {
    animation: false,
    backgroundColor: "#fff",
    grid,
    xAxis,
    yAxis,
    series,
    legend,
    graphic,
  };
}

export default function App() {
  const ref = useRef<HTMLDivElement>(null);
  useEffect(() => {
    if (!ref.current) return;
    const chart = echarts.init(ref.current, undefined, { renderer: "svg" });
    chart.setOption(buildOption() as any);
    return () => chart.dispose();
  }, []);
  return (
    <div
      ref={ref}
      style={{ position: "absolute", left: 0, top: 0, width: 1209, height: 1377, background: "#fff" }}
    />
  );
}
